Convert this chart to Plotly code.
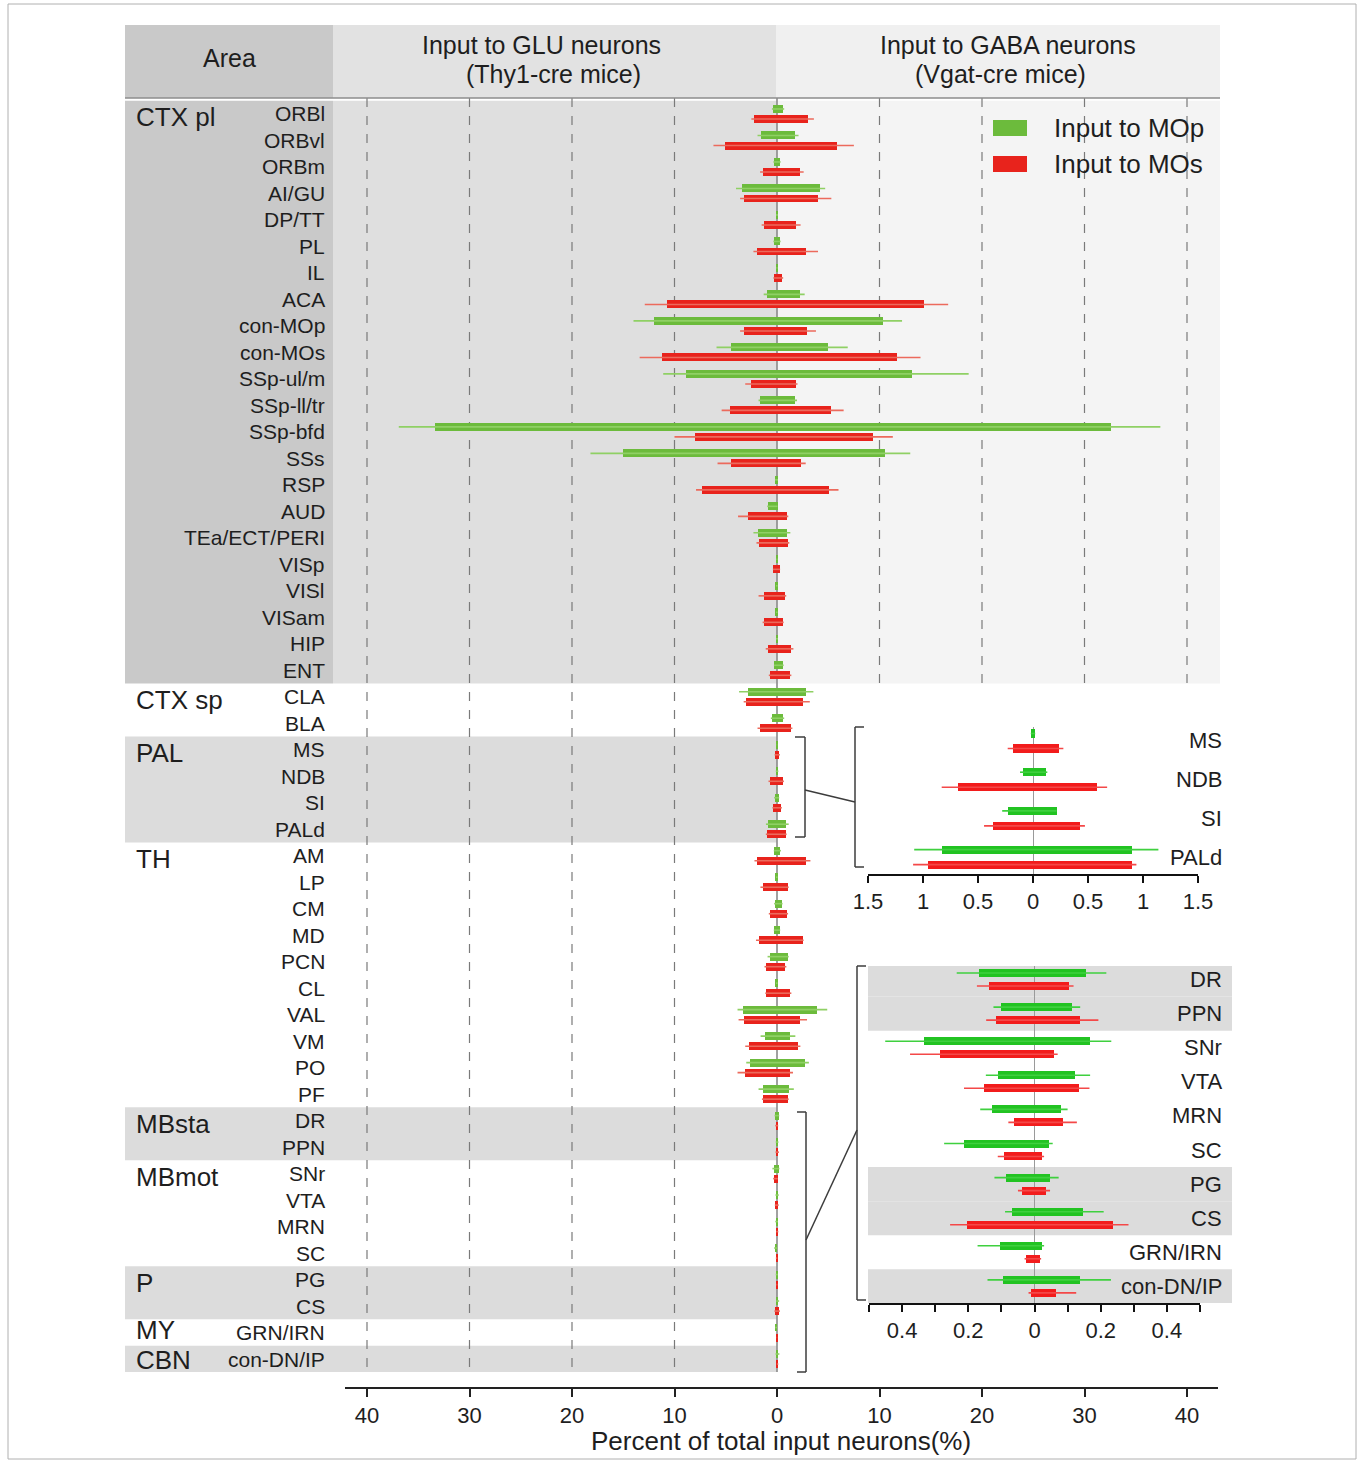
import plotly.graph_objects as go

# ---------------- data ----------------
regions = ["ORBl", "ORBvl", "ORBm", "AI/GU", "DP/TT", "PL", "IL", "ACA", "con-MOp", "con-MOs",
           "SSp-ul/m", "SSp-ll/tr", "SSp-bfd", "SSs", "RSP", "AUD", "TEa/ECT/PERI", "VISp", "VISl",
           "VISam", "HIP", "ENT",
           "CLA", "BLA",
           "MS", "NDB", "SI", "PALd",
           "AM", "LP", "CM", "MD", "PCN", "CL", "VAL", "VM", "PO", "PF",
           "DR", "PPN", "SNr", "VTA", "MRN", "SC", "PG", "CS", "GRN/IRN", "con-DN/IP"]

group_names = ["CTX pl", "CTX sp", "PAL", "TH", "MBsta", "MBmot", "P", "MY", "CBN"]
group_sizes = [22, 2, 4, 10, 2, 4, 2, 1, 1]
group_shaded = [True, False, True, False, True, False, True, False, True]

mop_glu = [0.4, 1.6, 0.3, 3.4, 0.1, 0.3, 0.05, 1.0, 12.0, 4.5, 8.9, 1.7, 33.4, 15.0, 0.2, 0.85, 1.9,
           0.05, 0.1, 0.1, 0.1, 0.25,
           2.8, 0.5,
           0.02, 0.088, 0.224, 0.83,
           0.26, 0.1, 0.23, 0.26, 0.72, 0.1, 3.3, 1.2, 2.6, 1.37,
           0.169, 0.10, 0.335, 0.109, 0.129, 0.213, 0.087, 0.069, 0.104, 0.094]
mop_glu_sd = [0.1, 0.3, 0.05, 0.6, 0.0, 0.05, 0.0, 0.3, 2.0, 1.4, 2.2, 0.1, 3.5, 3.2, 0.0, 0.1, 0.4,
              0.0, 0.0, 0.0, 0.0, 0.05,
              0.9, 0.1,
              0.0, 0.03, 0.056, 0.25,
              0.05, 0.0, 0.05, 0.05, 0.2, 0.0, 0.55, 0.4, 0.4, 0.43,
              0.066, 0.024, 0.116, 0.038, 0.035, 0.06, 0.034, 0.02, 0.068, 0.048]
mop_gaba = [0.6, 1.8, 0.3, 4.2, 0.1, 0.3, 0.05, 2.2, 10.3, 5.0, 13.2, 1.8, 32.6, 10.5, 0.1, 0.05, 0.95,
            0.05, 0.05, 0.05, 0.1, 0.6,
            2.8, 0.6,
            0.02, 0.12, 0.215, 0.90,
            0.33, 0.05, 0.49, 0.26, 1.04, 0.05, 3.9, 1.24, 2.76, 1.14,
            0.156, 0.113, 0.168, 0.123, 0.08, 0.045, 0.047, 0.145, 0.022, 0.138]
mop_gaba_sd = [0.1, 0.3, 0.05, 0.5, 0.0, 0.05, 0.0, 0.5, 1.9, 1.9, 5.5, 0.15, 4.8, 2.5, 0.0, 0.0, 0.35,
               0.0, 0.0, 0.0, 0.0, 0.05,
               0.75, 0.1,
               0.0, 0.01, 0.0, 0.24,
               0.05, 0.0, 0.05, 0.05, 0.1, 0.0, 1.0, 0.55, 0.35, 0.5,
               0.061, 0.025, 0.064, 0.045, 0.02, 0.01, 0.026, 0.064, 0.007, 0.093]

mos_glu = [2.2, 5.1, 1.4, 3.2, 1.3, 2.0, 0.3, 10.7, 3.2, 11.2, 2.5, 4.6, 8.0, 4.5, 7.3, 2.8, 1.8,
           0.35, 1.3, 1.25, 0.9, 0.65,
           3.0, 1.7,
           0.18, 0.68, 0.363, 0.953,
           2.0, 1.37, 0.65, 1.8, 1.07, 1.04, 3.25, 2.7, 3.1, 1.37,
           0.137, 0.116, 0.287, 0.152, 0.063, 0.091, 0.038, 0.205, 0.025, 0.01]
mos_glu_sd = [0.3, 1.1, 0.25, 0.4, 0.2, 0.3, 0.05, 2.2, 0.4, 2.2, 0.6, 0.8, 2.0, 1.3, 0.6, 1.0, 0.2,
              0.05, 0.5, 0.15, 0.2, 0.15,
              0.25, 0.2,
              0.05, 0.15, 0.082, 0.137,
              0.2, 0.25, 0.15, 0.25, 0.15, 0.1, 0.5, 0.4, 0.75, 0.1,
              0.037, 0.03, 0.089, 0.061, 0.016, 0.02, 0.012, 0.05, 0.005, 0.008]
mos_gaba = [3.0, 5.9, 2.2, 4.0, 1.9, 2.8, 0.5, 14.3, 2.9, 11.7, 1.9, 5.3, 9.4, 2.3, 5.1, 0.95, 1.1,
            0.25, 0.8, 0.55, 1.35, 1.3,
            2.5, 1.4,
            0.236, 0.584, 0.426, 0.90,
            2.86, 1.04, 0.98, 2.5, 0.81, 1.3, 2.28, 2.05, 1.3, 1.04,
            0.105, 0.136, 0.059, 0.133, 0.086, 0.022, 0.034, 0.236, 0.017, 0.065]
mos_gaba_sd = [0.6, 1.6, 0.4, 1.3, 0.4, 1.2, 0.1, 2.4, 0.9, 2.3, 0.1, 1.2, 1.9, 0.5, 0.9, 0.15, 0.1,
               0.05, 0.1, 0.1, 0.25, 0.1,
               0.7, 0.1,
               0.04, 0.09, 0.046, 0.04,
               0.4, 0.1, 0.1, 0.1, 0.1, 0.1, 0.65, 0.23, 0.26, 0.1,
               0.013, 0.057, 0.011, 0.033, 0.042, 0.007, 0.013, 0.048, 0.003, 0.061]

main_ticks = [-40, -30, -20, -10, 0, 10, 20, 30, 40]
inset1_ticks = [-1.5, -1, -0.5, 0, 0.5, 1, 1.5]
inset2_ticks = [-0.5, -0.4, -0.3, -0.2, -0.1, 0, 0.1, 0.2, 0.3, 0.4, 0.5]
inset2_labeled = [-0.4, -0.2, 0, 0.2, 0.4]
inset1_rows = ["MS", "NDB", "SI", "PALd"]
inset2_rows = ["DR", "PPN", "SNr", "VTA", "MRN", "SC", "PG", "CS", "GRN/IRN", "con-DN/IP"]
inset2_shaded = ["DR", "PPN", "PG", "CS", "con-DN/IP"]

# ---------------- styling ----------------
W, H = 1362, 1461
FONT = "Liberation Sans, Arial, sans-serif"
TXT = "#1e1e1e"
G_MAIN, R_MAIN = "#6cbb3c", "#e8231c"
G_MAIN_E, R_MAIN_E = "#8fd064", "#ec6a5c"
G_INS, R_INS = "#22c322", "#f21c1c"
G_INS_E, R_INS_E = "#3fd03f", "#f44848"


def px(x):
    return x / W


def py(y):
    return 1 - y / H


n = len(regions)
ROW0, ROWH = 114.0, 26.49
Y_TOP, Y_BOT = 98.0, 1372.0
main_range = [(Y_BOT - ROW0) / ROWH, (Y_TOP - ROW0) / ROWH]
X_L, X_R, X0, XS = 345.0, 1218.0, 777.0, 10.25
main_xrange = [(X_L - X0) / XS, (X_R - X0) / XS]

fig = go.Figure()


def add_series(rows_idx, offs, bw, xa, ya, gcol, rcol, gecol, recol):
    for (glu, glu_sd, gaba, gaba_sd, col, ecol, sgn) in [
        (mop_glu, mop_glu_sd, mop_gaba, mop_gaba_sd, gcol, gecol, -1),
        (mos_glu, mos_glu_sd, mos_gaba, mos_gaba_sd, rcol, recol, 1)]:
        xs, ys = [], []
        for j, i in enumerate(rows_idx):
            yv = j + sgn * offs
            xs += [-(glu[i] + glu_sd[i]), gaba[i] + gaba_sd[i], None]
            ys += [yv, yv, None]
        fig.add_trace(go.Scatter(x=xs, y=ys, mode="lines", line=dict(color=ecol, width=1.6),
                                 xaxis=xa, yaxis=ya, hoverinfo="skip", showlegend=False))
        fig.add_trace(go.Bar(orientation="h",
                             y=[j + sgn * offs for j in range(len(rows_idx))],
                             x=[glu[i] + gaba[i] for i in rows_idx],
                             base=[-glu[i] for i in rows_idx],
                             width=bw, marker=dict(color=col, line=dict(width=0)),
                             xaxis=xa, yaxis=ya, showlegend=False))


add_series(list(range(n)), 0.19, 0.30, "x", "y", G_MAIN, R_MAIN, G_MAIN_E, R_MAIN_E)
ins1_idx = [regions.index(r) for r in inset1_rows]
add_series(ins1_idx, 0.194, 0.21, "x2", "y2", G_INS, R_INS, G_INS_E, R_INS_E)
ins2_idx = [regions.index(r) for r in inset2_rows]
add_series(ins2_idx, 0.19, 0.235, "x3", "y3", G_INS, R_INS, G_INS_E, R_INS_E)

shapes = []
annos = []


def rect_px(x0, y0, x1, y1, color, layer="below"):
    shapes.append(dict(type="rect", xref="paper", yref="paper", x0=px(x0), x1=px(x1),
                       y0=py(y1), y1=py(y0), fillcolor=color, line=dict(width=0), layer=layer))


def line_px(x0, y0, x1, y1, color="#444444", width=1.5):
    shapes.append(dict(type="line", xref="paper", yref="paper", x0=px(x0), x1=px(x1), y0=py(y0),
                       y1=py(y1), line=dict(color=color, width=width), layer="above"))


def text_px(x, y, s, size, xanchor="center", yanchor="middle"):
    annos.append(dict(xref="paper", yref="paper", x=px(x), y=py(y), text=s, showarrow=False,
                      xanchor=xanchor, yanchor=yanchor, align="center",
                      font=dict(size=size, color=TXT, family=FONT)))


shapes.append(dict(type="rect", xref="paper", yref="paper", x0=px(8), x1=px(1356), y0=py(1459), y1=py(4),
                   line=dict(color="#b0b0b0", width=1), fillcolor="rgba(0,0,0,0)", layer="below"))

rect_px(125, 25, 333, 98, "#c9c9c9")
rect_px(333, 25, 776, 98, "#e2e2e2")
rect_px(776, 25, 1220, 98, "#f0f0f0")

start = 0
for gname, gsize, shaded in zip(group_names, group_sizes, group_shaded):
    r0, r1 = start - 0.5, start + gsize - 0.5
    r0 = max(r0, main_range[1])
    r1 = min(r1, main_range[0])
    if gname == "CTX pl":
        for (xa, xb, colr) in [(125, 333, "#c9c9c9"), (333, 777, "#dfdfdf"), (777, 1220, "#f4f4f4")]:
            shapes.append(dict(type="rect", xref="paper", yref="y", x0=px(xa), x1=px(xb), y0=r0, y1=r1,
                               fillcolor=colr, line=dict(width=0), layer="below"))
    elif shaded:
        shapes.append(dict(type="rect", xref="paper", yref="y", x0=px(125), x1=px(777), y0=r0, y1=r1,
                           fillcolor="#dcdcdc", line=dict(width=0), layer="below"))
    if gsize > 1:
        dy = 0.12
    else:
        dy = -0.08 if gname == "MY" else 0.05
    annos.append(dict(xref="paper", yref="y", x=px(134), y=start + dy, text=gname, showarrow=False,
                      xanchor="left", yanchor="middle", font=dict(size=26, color=TXT, family=FONT)))
    start += gsize

ctx_end = group_sizes[0] - 0.5
for t in main_ticks:
    if t == 0:
        continue
    y1 = main_range[0] if t < 0 else ctx_end
    shapes.append(dict(type="line", xref="x", yref="y", x0=t, x1=t, y0=main_range[1], y1=y1,
                       line=dict(color="#7a7a7a", width=1.2, dash="dash"), layer="below"))
shapes.append(dict(type="line", xref="x", yref="y", x0=0, x1=0, y0=main_range[1], y1=main_range[0],
                   line=dict(color="#8a8a8a", width=1.6), layer="below"))
line_px(125, 98, 1220, 98, color="#8c8c8c", width=1.5)

for r in inset2_shaded:
    j = inset2_rows.index(r)
    shapes.append(dict(type="rect", xref="paper", yref="y3", x0=px(868), x1=px(1232),
                       y0=max(j - 0.5, -0.396), y1=min(j + 0.5, 9.487),
                       fillcolor="#dcdcdc", line=dict(width=0), layer="below"))

BR = "#3c3c3c"
line_px(805, 737, 805, 837, BR); line_px(795, 737, 805, 737, BR); line_px(795, 837, 805, 837, BR)
line_px(805, 790, 855, 802, BR)
line_px(855, 727, 855, 867, BR); line_px(855, 727, 864, 727, BR); line_px(855, 867, 864, 867, BR)
line_px(806, 1112, 806, 1372, BR); line_px(797, 1112, 806, 1112, BR); line_px(797, 1372, 806, 1372, BR)
line_px(806, 1240, 857, 1130, BR)
line_px(857, 966, 857, 1300, BR); line_px(857, 966, 866, 966, BR); line_px(857, 1300, 866, 1300, BR)

rect_px(993, 120, 1027, 136, G_MAIN, layer="above")
rect_px(993, 156, 1027, 172, R_MAIN, layer="above")
text_px(1052, 128, "Input to MOp", 26, xanchor="left")
text_px(1052, 164, "Input to MOs", 26, xanchor="left")

text_px(229, 58, "Area", 25)
text_px(541, 45, "Input to GLU neurons", 25)
text_px(553, 74, "(Thy1-cre mice)", 25)
text_px(1008, 45, "Input to GABA neurons", 25)
text_px(1000, 74, "(Vgat-cre mice)", 25)

for i, r in enumerate(regions):
    annos.append(dict(xref="paper", yref="y", x=px(327), y=i, text=r, showarrow=False,
                      xanchor="right", yanchor="middle", font=dict(size=21, color=TXT, family=FONT)))
for j, r in enumerate(inset1_rows):
    annos.append(dict(xref="paper", yref="y2", x=px(1224), y=j, text=r, showarrow=False,
                      xanchor="right", yanchor="middle", font=dict(size=22, color=TXT, family=FONT)))
for j, r in enumerate(inset2_rows):
    annos.append(dict(xref="paper", yref="y3", x=px(1224), y=j, text=r, showarrow=False,
                      xanchor="right", yanchor="middle", font=dict(size=22, color=TXT, family=FONT)))

text_px(781, 1441, "Percent of total input neurons(%)", 26)


def fmt(v):
    a = abs(v)
    return str(int(a)) if a == int(a) else str(a)


fig.update_layout(
    width=W, height=H, margin=dict(l=0, r=0, t=0, b=0, pad=0, autoexpand=False),
    paper_bgcolor="white", plot_bgcolor="rgba(0,0,0,0)",
    barmode="overlay", showlegend=False, bargap=0,
    font=dict(family=FONT, color=TXT),
    shapes=shapes, annotations=annos,
    xaxis=dict(domain=[px(X_L), px(X_R)], range=main_xrange, anchor="free", position=py(1388),
               showgrid=False, zeroline=False, showline=True, linecolor="#222222", linewidth=2,
               ticks="outside", ticklen=8, tickwidth=1.5, tickcolor="#222222", automargin=False,
               tickvals=main_ticks, ticktext=[fmt(t) for t in main_ticks],
               tickfont=dict(size=22, color=TXT, family=FONT)),
    yaxis=dict(domain=[py(Y_BOT), py(Y_TOP)], range=main_range, visible=False, anchor="x",
               automargin=False),
    xaxis2=dict(domain=[px(868), px(1198)], range=[-1.5, 1.5], anchor="y2", automargin=False,
                showgrid=False, zeroline=True, zerolinecolor="#9a9a9a", zerolinewidth=1.2,
                showline=True, linecolor="#111111", linewidth=2,
                ticks="outside", ticklen=7, tickwidth=1.5, tickcolor="#111111",
                tickvals=inset1_ticks, ticktext=[fmt(t) for t in inset1_ticks],
                tickfont=dict(size=22, color=TXT, family=FONT)),
    yaxis2=dict(domain=[py(874), py(727)], range=[(874 - 741) / 38.7, (727 - 741) / 38.7],
                visible=False, anchor="x2", automargin=False),
    xaxis3=dict(domain=[px(869), px(1200)], range=[-0.5, 0.5], anchor="y3", automargin=False,
                showgrid=False, zeroline=True, zerolinecolor="#9a9a9a", zerolinewidth=1.2,
                showline=True, linecolor="#111111", linewidth=2,
                ticks="outside", ticklen=7, tickwidth=1.5, tickcolor="#111111",
                tickvals=inset2_ticks,
                ticktext=[fmt(t) if t in inset2_labeled else "" for t in inset2_ticks],
                tickfont=dict(size=22, color=TXT, family=FONT)),
    yaxis3=dict(domain=[py(1303), py(966)], range=[(1303 - 979.5) / 34.1, (966 - 979.5) / 34.1],
                visible=False, anchor="x3", automargin=False),
)

fig.write_html("out.html", config={"displayModeBar": False},
               post_script="document.body.style.margin='0';document.body.style.overflow='hidden';")
